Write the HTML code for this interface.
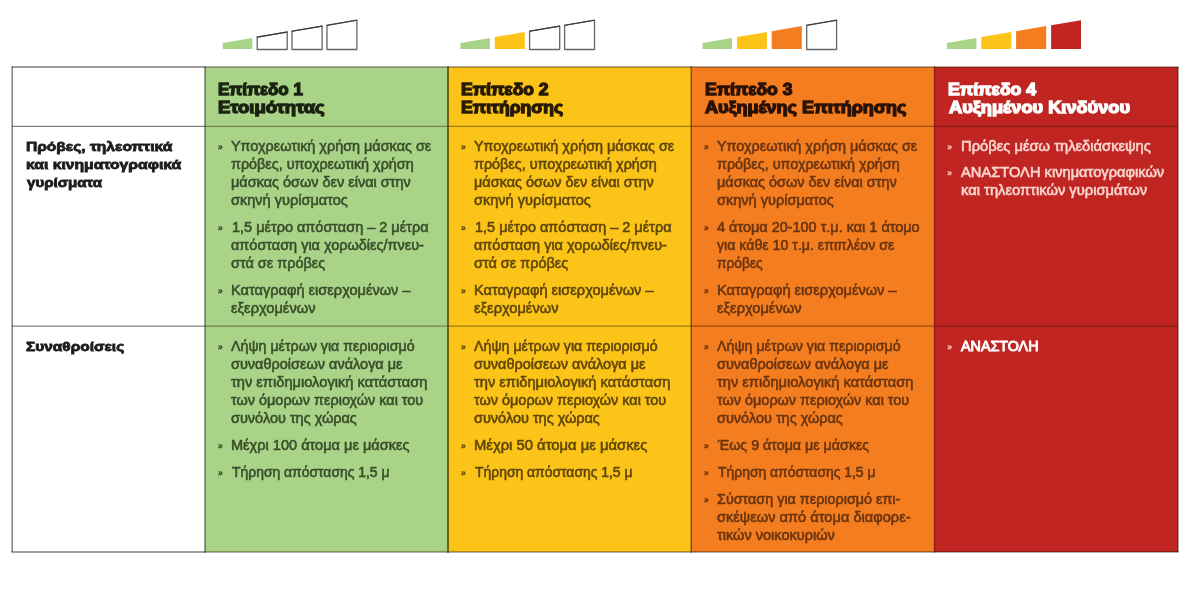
<!DOCTYPE html>
<html lang="el"><head><meta charset="utf-8"><title>Επίπεδα</title>
<style>
html,body{margin:0;padding:0;background:#fff;}
body{width:1200px;height:596px;position:relative;overflow:hidden;font-family:"Liberation Sans",sans-serif;}
.c{position:absolute;}
p{position:absolute;margin:0;white-space:nowrap;}
p span{display:block;position:relative;transform-origin:0 0;}
.p{font-size:14.0px;line-height:18.0px;-webkit-text-stroke:0.55px currentColor;}
.pb{font-size:14.0px;line-height:18.0px;-webkit-text-stroke:0.9px currentColor;}
.h{font-weight:bold;font-size:16.0px;line-height:18.0px;-webkit-text-stroke:1.3px currentColor;}
.l{font-weight:bold;font-size:13.0px;line-height:18.0px;color:#1d1d1b;-webkit-text-stroke:0.8px currentColor;}
.b{position:absolute;white-space:nowrap;font-size:8.5px;line-height:10px;font-weight:bold;letter-spacing:-0.3px;-webkit-text-stroke:0.3px currentColor;}
#w{position:absolute;left:0;top:0;width:1200px;height:596px;filter:blur(0.5px);}
</style></head><body><div id="w">
<svg class="c" style="left:0;top:0" width="1200" height="66" viewBox="0 0 1200 66"><polygon points="222.8,49.1 222.8,42.9 252.3,37.9 252.3,49.1" fill="#a9d387"/><polygon points="257.2,49.5 257.2,37.1 287.2,32.0 287.2,49.5" fill="#fff" stroke="#666" stroke-width="1.3" stroke-linejoin="round"/><line x1="257.2" y1="37.1" x2="287.2" y2="32.0" stroke="#3a3a3a" stroke-width="1.1" stroke-linecap="round"/><polygon points="292.0,49.5 292.0,31.2 322.1,26.1 322.1,49.5" fill="#fff" stroke="#666" stroke-width="1.3" stroke-linejoin="round"/><line x1="292.0" y1="31.2" x2="322.1" y2="26.1" stroke="#3a3a3a" stroke-width="1.1" stroke-linecap="round"/><polygon points="327.0,49.5 327.0,25.3 356.9,20.2 356.9,49.5" fill="#fff" stroke="#666" stroke-width="1.3" stroke-linejoin="round"/><line x1="327.0" y1="25.3" x2="356.9" y2="20.2" stroke="#3a3a3a" stroke-width="1.1" stroke-linecap="round"/><polygon points="460.4,49.1 460.4,42.9 489.9,37.9 489.9,49.1" fill="#a9d387"/><polygon points="494.8,49.1 494.8,37.1 524.8,32.0 524.8,49.1" fill="#fcc419"/><polygon points="529.6,49.5 529.6,31.2 559.7,26.1 559.7,49.5" fill="#fff" stroke="#666" stroke-width="1.3" stroke-linejoin="round"/><line x1="529.6" y1="31.2" x2="559.7" y2="26.1" stroke="#3a3a3a" stroke-width="1.1" stroke-linecap="round"/><polygon points="564.6,49.5 564.6,25.3 594.5,20.2 594.5,49.5" fill="#fff" stroke="#666" stroke-width="1.3" stroke-linejoin="round"/><line x1="564.6" y1="25.3" x2="594.5" y2="20.2" stroke="#3a3a3a" stroke-width="1.1" stroke-linecap="round"/><polygon points="702.5,49.1 702.5,42.9 732.0,37.9 732.0,49.1" fill="#a9d387"/><polygon points="736.9,49.1 736.9,37.1 766.9,32.0 766.9,49.1" fill="#fcc419"/><polygon points="771.7,49.1 771.7,31.2 801.8,26.1 801.8,49.1" fill="#f47d20"/><polygon points="806.7,49.5 806.7,25.3 836.6,20.2 836.6,49.5" fill="#fff" stroke="#666" stroke-width="1.3" stroke-linejoin="round"/><line x1="806.7" y1="25.3" x2="836.6" y2="20.2" stroke="#3a3a3a" stroke-width="1.1" stroke-linecap="round"/><polygon points="946.9,49.1 946.9,42.9 976.4,37.9 976.4,49.1" fill="#a9d387"/><polygon points="981.3,49.1 981.3,37.1 1011.3,32.0 1011.3,49.1" fill="#fcc419"/><polygon points="1016.1,49.1 1016.1,31.2 1046.2,26.1 1046.2,49.1" fill="#f47d20"/><polygon points="1051.1,49.1 1051.1,25.3 1081.0,20.2 1081.0,49.1" fill="#c12522"/></svg>
<div class="c" style="left:12.2px;top:67.0px;width:192.8px;height:485.0px;background:#ffffff"></div>
<div class="c" style="left:205.0px;top:67.0px;width:243.0px;height:485.0px;background:#a9d387"></div>
<div class="c" style="left:448.0px;top:67.0px;width:243.2px;height:485.0px;background:#fcc419"></div>
<div class="c" style="left:691.2px;top:67.0px;width:243.2px;height:485.0px;background:#f47d20"></div>
<div class="c" style="left:934.4px;top:67.0px;width:243.6px;height:485.0px;background:#c12522"></div>
<svg class="c" style="left:0;top:0" width="1200" height="596" viewBox="0 0 1200 596"><line x1="12.2" y1="126.4" x2="205.0" y2="126.4" stroke="rgba(0,0,0,0.5)" stroke-width="1.3"/><line x1="205.0" y1="126.4" x2="1178.0" y2="126.4" stroke="rgba(40,20,0,0.42)" stroke-width="1.3"/><line x1="12.2" y1="326.2" x2="205.0" y2="326.2" stroke="rgba(0,0,0,0.5)" stroke-width="1.3"/><line x1="205.0" y1="326.2" x2="1178.0" y2="326.2" stroke="rgba(40,20,0,0.42)" stroke-width="1.3"/><line x1="11.5" y1="67.0" x2="205.0" y2="67.0" stroke="rgba(0,0,0,0.5)" stroke-width="1.5"/><line x1="205.0" y1="67.0" x2="1178.7" y2="67.0" stroke="rgba(40,20,0,0.45)" stroke-width="1.5"/><line x1="11.5" y1="552.0" x2="205.0" y2="552.0" stroke="rgba(0,0,0,0.5)" stroke-width="1.5"/><line x1="205.0" y1="552.0" x2="1178.7" y2="552.0" stroke="rgba(40,20,0,0.45)" stroke-width="1.5"/><line x1="12.2" y1="67.0" x2="12.2" y2="552.0" stroke="rgba(0,0,0,0.5)" stroke-width="1.5"/><line x1="205.0" y1="66.3" x2="205.0" y2="552.7" stroke="rgba(20,40,10,0.55)" stroke-width="1.6"/><line x1="448.0" y1="66.3" x2="448.0" y2="552.7" stroke="rgba(55,55,0,0.72)" stroke-width="1.9"/><line x1="691.2" y1="66.3" x2="691.2" y2="552.7" stroke="rgba(70,30,0,0.55)" stroke-width="1.6"/><line x1="934.4" y1="66.3" x2="934.4" y2="552.7" stroke="rgba(90,20,0,0.45)" stroke-width="1.4"/><line x1="1178.0" y1="67.0" x2="1178.0" y2="552.0" stroke="rgba(70,10,10,0.5)" stroke-width="1.5"/></svg>
<span class="b" style="left:217.9px;top:142.1px;color:#384d2c">»</span><p class="p" style="left:205.0px;top:136.95px;color:#384d2c;"><span style="left:26.20px;transform:scaleX(1.0297)">Υποχρεωτική χρήση μάσκας σε</span><span style="left:26.20px;transform:scaleX(1.0270)">πρόβες, υποχρεωτική χρήση</span><span style="left:26.20px;transform:scaleX(1.0333)">μάσκας όσων δεν είναι στην</span><span style="left:26.20px;transform:scaleX(1.0389)">σκηνή γυρίσματος</span></p>
<span class="b" style="left:217.9px;top:223.1px;color:#384d2c">»</span><p class="p" style="left:205.0px;top:217.95px;color:#384d2c;"><span style="left:26.50px;transform:scaleX(1.0342)">1,5 μέτρο απόσταση – 2 μέτρα</span><span style="left:26.20px;transform:scaleX(1.0332)">απόσταση για χορωδίες/πνευ-</span><span style="left:26.20px;transform:scaleX(1.0330)">στά σε πρόβες</span></p>
<span class="b" style="left:217.9px;top:286.1px;color:#384d2c">»</span><p class="p" style="left:205.0px;top:280.95px;color:#384d2c;"><span style="left:26.20px;transform:scaleX(1.0416)">Καταγραφή εισερχομένων –</span><span style="left:26.20px;transform:scaleX(1.0469)">εξερχομένων</span></p>
<span class="b" style="left:460.9px;top:142.1px;color:#644a08">»</span><p class="p" style="left:448.0px;top:136.95px;color:#5e4608;"><span style="left:26.20px;transform:scaleX(1.0297)">Υποχρεωτική χρήση μάσκας σε</span><span style="left:26.20px;transform:scaleX(1.0270)">πρόβες, υποχρεωτική χρήση</span><span style="left:26.20px;transform:scaleX(1.0333)">μάσκας όσων δεν είναι στην</span><span style="left:26.20px;transform:scaleX(1.0389)">σκηνή γυρίσματος</span></p>
<span class="b" style="left:460.9px;top:223.1px;color:#644a08">»</span><p class="p" style="left:448.0px;top:217.95px;color:#5e4608;"><span style="left:26.50px;transform:scaleX(1.0342)">1,5 μέτρο απόσταση – 2 μέτρα</span><span style="left:26.20px;transform:scaleX(1.0332)">απόσταση για χορωδίες/πνευ-</span><span style="left:26.20px;transform:scaleX(1.0330)">στά σε πρόβες</span></p>
<span class="b" style="left:460.9px;top:286.1px;color:#644a08">»</span><p class="p" style="left:448.0px;top:280.95px;color:#5e4608;"><span style="left:26.20px;transform:scaleX(1.0416)">Καταγραφή εισερχομένων –</span><span style="left:26.20px;transform:scaleX(1.0469)">εξερχομένων</span></p>
<span class="b" style="left:704.1px;top:142.1px;color:#68340f">»</span><p class="p" style="left:691.2px;top:136.95px;color:#68340f;"><span style="left:26.20px;transform:scaleX(1.0297)">Υποχρεωτική χρήση μάσκας σε</span><span style="left:26.20px;transform:scaleX(1.0270)">πρόβες, υποχρεωτική χρήση</span><span style="left:26.20px;transform:scaleX(1.0333)">μάσκας όσων δεν είναι στην</span><span style="left:26.20px;transform:scaleX(1.0389)">σκηνή γυρίσματος</span></p>
<span class="b" style="left:704.1px;top:223.1px;color:#68340f">»</span><p class="p" style="left:691.2px;top:217.95px;color:#68340f;"><span style="left:26.20px;transform:scaleX(1.0321)">4 άτομα 20-100 τ.μ. και 1 άτομο</span><span style="left:26.20px;transform:scaleX(1.0120)">για κάθε 10 τ.μ. επιπλέον σε</span><span style="left:26.20px;transform:scaleX(0.9851)">πρόβες</span></p>
<span class="b" style="left:704.1px;top:286.1px;color:#68340f">»</span><p class="p" style="left:691.2px;top:280.95px;color:#68340f;"><span style="left:26.20px;transform:scaleX(1.0416)">Καταγραφή εισερχομένων –</span><span style="left:26.20px;transform:scaleX(1.0469)">εξερχομένων</span></p>
<span class="b" style="left:947.3px;top:142.1px;color:#f4bcb4">»</span><p class="p" style="left:934.4px;top:136.95px;color:#f8d6cf;"><span style="left:26.60px;transform:scaleX(1.0519)">Πρόβες μέσω τηλεδιάσκεψης</span></p>
<span class="b" style="left:947.3px;top:168.2px;color:#f4bcb4">»</span><p class="p" style="left:934.4px;top:163.05px;color:#f8d6cf;"><span style="left:26.20px;transform:scaleX(1.0479)">ΑΝΑΣΤΟΛΗ κινηματογραφικών</span><span style="left:26.20px;transform:scaleX(1.0520)">και τηλεοπτικών γυρισμάτων</span></p>
<span class="b" style="left:217.9px;top:342.1px;color:#384d2c">»</span><p class="p" style="left:205.0px;top:336.95px;color:#384d2c;"><span style="left:26.20px;transform:scaleX(1.0155)">Λήψη μέτρων για περιορισμό</span><span style="left:26.20px;transform:scaleX(1.0349)">συναθροίσεων ανάλογα με</span><span style="left:26.20px;transform:scaleX(1.0468)">την επιδημιολογική κατάσταση</span><span style="left:26.20px;transform:scaleX(1.0312)">των όμορων περιοχών και του</span><span style="left:26.20px;transform:scaleX(1.0344)">συνόλου της χώρας</span></p>
<span class="b" style="left:217.9px;top:441.1px;color:#384d2c">»</span><p class="p" style="left:205.0px;top:435.95px;color:#384d2c;"><span style="left:26.20px;transform:scaleX(1.0395)">Μέχρι 100 άτομα με μάσκες</span></p>
<span class="b" style="left:217.9px;top:468.1px;color:#384d2c">»</span><p class="p" style="left:205.0px;top:462.95px;color:#384d2c;"><span style="left:27.00px;transform:scaleX(0.9937)">Τήρηση απόστασης 1,5 μ</span></p>
<span class="b" style="left:460.9px;top:342.1px;color:#644a08">»</span><p class="p" style="left:448.0px;top:336.95px;color:#5e4608;"><span style="left:26.20px;transform:scaleX(1.0155)">Λήψη μέτρων για περιορισμό</span><span style="left:26.20px;transform:scaleX(1.0349)">συναθροίσεων ανάλογα με</span><span style="left:26.20px;transform:scaleX(1.0468)">την επιδημιολογική κατάσταση</span><span style="left:26.20px;transform:scaleX(1.0312)">των όμορων περιοχών και του</span><span style="left:26.20px;transform:scaleX(1.0344)">συνόλου της χώρας</span></p>
<span class="b" style="left:460.9px;top:441.1px;color:#644a08">»</span><p class="p" style="left:448.0px;top:435.95px;color:#5e4608;"><span style="left:26.20px;transform:scaleX(1.0573)">Μέχρι 50 άτομα με μάσκες</span></p>
<span class="b" style="left:460.9px;top:468.1px;color:#644a08">»</span><p class="p" style="left:448.0px;top:462.95px;color:#5e4608;"><span style="left:27.00px;transform:scaleX(0.9937)">Τήρηση απόστασης 1,5 μ</span></p>
<span class="b" style="left:704.1px;top:342.1px;color:#68340f">»</span><p class="p" style="left:691.2px;top:336.95px;color:#68340f;"><span style="left:26.20px;transform:scaleX(1.0155)">Λήψη μέτρων για περιορισμό</span><span style="left:26.20px;transform:scaleX(1.0349)">συναθροίσεων ανάλογα με</span><span style="left:26.20px;transform:scaleX(1.0468)">την επιδημιολογική κατάσταση</span><span style="left:26.20px;transform:scaleX(1.0312)">των όμορων περιοχών και του</span><span style="left:26.20px;transform:scaleX(1.0344)">συνόλου της χώρας</span></p>
<span class="b" style="left:704.1px;top:441.1px;color:#68340f">»</span><p class="p" style="left:691.2px;top:435.95px;color:#68340f;"><span style="left:26.42px;transform:scaleX(1.0187)">Έως 9 άτομα με μάσκες</span></p>
<span class="b" style="left:704.1px;top:468.1px;color:#68340f">»</span><p class="p" style="left:691.2px;top:462.95px;color:#68340f;"><span style="left:27.00px;transform:scaleX(0.9937)">Τήρηση απόστασης 1,5 μ</span></p>
<span class="b" style="left:704.1px;top:495.1px;color:#68340f">»</span><p class="p" style="left:691.2px;top:489.95px;color:#68340f;"><span style="left:26.20px;transform:scaleX(1.0257)">Σύσταση για περιορισμό επι-</span><span style="left:26.20px;transform:scaleX(1.0443)">σκέψεων από άτομα διαφορε-</span><span style="left:26.20px;transform:scaleX(1.0386)">τικών νοικοκυριών</span></p>
<span class="b" style="left:947.3px;top:342.3px;color:#f4bcb4">»</span><p class="pb" style="left:934.4px;top:337.15px;color:#ffffff;"><span style="left:27.02px;transform:scaleX(1.0221)">ΑΝΑΣΤΟΛΗ</span></p>
<p class="h" style="left:205.0px;top:81.36px;color:#1a2212;"><span style="left:13.40px;transform:scaleX(1.0605)">Επίπεδο 1</span><span style="left:13.40px;transform:scaleX(1.1538)">Ετοιμότητας</span></p>
<p class="h" style="left:448.0px;top:81.36px;color:#261a03;"><span style="left:13.40px;transform:scaleX(1.0938)">Επίπεδο 2</span><span style="left:13.40px;transform:scaleX(1.0989)">Επιτήρησης</span></p>
<p class="h" style="left:691.2px;top:81.36px;color:#2a1204;"><span style="left:13.60px;transform:scaleX(1.0914)">Επίπεδο 3</span><span style="left:14.12px;transform:scaleX(1.1238)">Αυξημένης Επιτήρησης</span></p>
<p class="h" style="left:934.4px;top:81.36px;color:#ffffff;"><span style="left:13.40px;transform:scaleX(1.0988)">Επίπεδο 4</span><span style="left:14.14px;transform:scaleX(1.1375)">Αυξημένου Κινδύνου</span></p>
<p class="l" style="left:12.2px;top:137.60px;"><span style="left:13.80px;transform:scaleX(1.1959)">Πρόβες, τηλεοπτικά</span><span style="left:13.80px;transform:scaleX(1.2093)">και κινηματογραφικά</span><span style="left:14.96px;transform:scaleX(1.1606)">γυρίσματα</span></p>
<p class="l" style="left:12.2px;top:338.30px;"><span style="left:13.80px;transform:scaleX(1.1880)">Συναθροίσεις</span></p>
</div></body></html>
